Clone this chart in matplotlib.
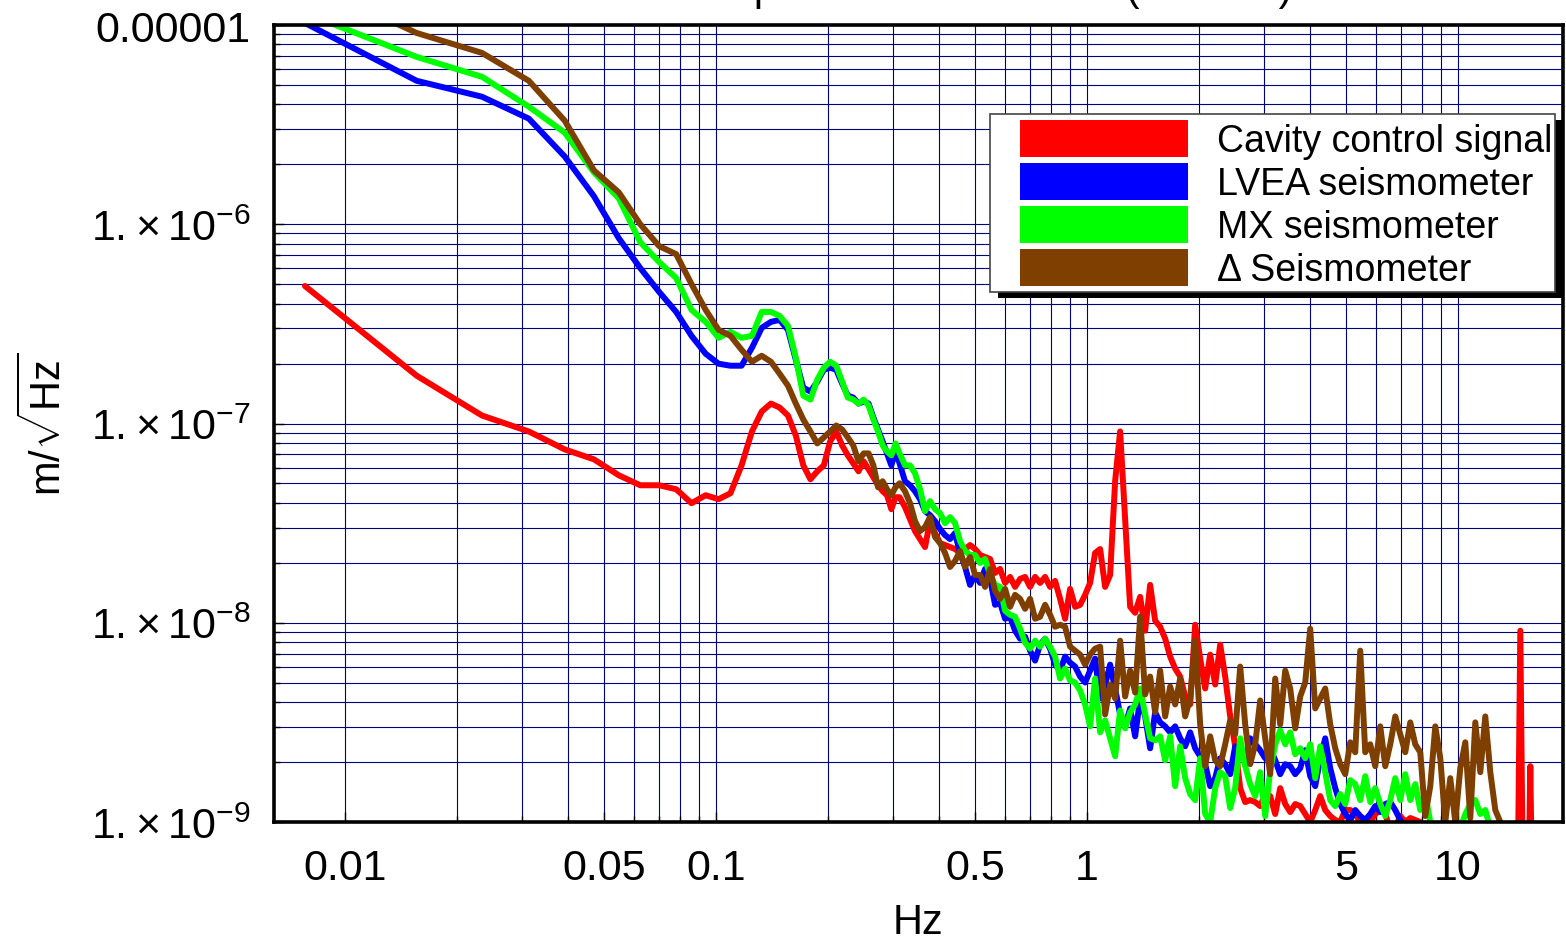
import numpy as np
import matplotlib
matplotlib.use("Agg")
import matplotlib.pyplot as plt
from matplotlib.patches import Patch, Rectangle
from matplotlib.ticker import FixedLocator, FixedFormatter, NullFormatter

plt.rcParams['font.family'] = ['Liberation Sans', 'DejaVu Sans']
plt.rcParams['mathtext.fontset'] = 'custom'
plt.rcParams['mathtext.rm'] = 'Liberation Sans'
plt.rcParams['mathtext.it'] = 'Liberation Sans:italic'
plt.rcParams['mathtext.bf'] = 'Liberation Sans:bold'

# frequency bins in Hz: 1/128 Hz spacing at the low end ...
freq_low = [0.0078, 0.0156, 0.0234, 0.0313, 0.0391, 0.0469, 0.0547, 0.0625, 0.0703, 0.0781,
            0.0859, 0.0938, 0.1016, 0.1094, 0.1172, 0.1250, 0.1328, 0.1406, 0.1484, 0.1563,
            0.1641, 0.1719, 0.1797, 0.1875, 0.1953, 0.2031, 0.2109, 0.2188, 0.2266, 0.2344,
            0.2422, 0.2500, 0.2578, 0.2656, 0.2734, 0.2813, 0.2891, 0.2969, 0.3047, 0.3125]
# ... and read-off points above 0.32 Hz
freq_high = [0.3232, 0.3334, 0.3439, 0.3548, 0.3660, 0.3775, 0.3894, 0.4017, 0.4144, 0.4274,
             0.4409, 0.4548, 0.4692, 0.4840, 0.4992, 0.5150, 0.5312, 0.5480, 0.5653, 0.5831,
             0.6015, 0.6204, 0.6400, 0.6602, 0.6810, 0.7024, 0.7246, 0.7474, 0.7710, 0.7953,
             0.8204, 0.8463, 0.8729, 0.9005, 0.9289, 0.9582, 0.9884, 1.0195, 1.0517, 1.0849,
             1.1191, 1.1544, 1.1908, 1.2283, 1.2671, 1.3071, 1.3483, 1.3908, 1.4347, 1.4799,
             1.5266, 1.5747, 1.6244, 1.6756, 1.7285, 1.7830, 1.8392, 1.8972, 1.9570, 2.0187,
             2.0824, 2.1481, 2.2158, 2.2857, 2.3578, 2.4321, 2.5088, 2.5879, 2.6695, 2.7537,
             2.8405, 2.9301, 3.0225, 3.1178, 3.2161, 3.3175, 3.4221, 3.5300, 3.6413, 3.7562,
             3.8746, 3.9968, 4.1228, 4.2528, 4.3869, 4.5253, 4.6680, 4.8152, 4.9670, 5.1236,
             5.2852, 5.4519, 5.6238, 5.8011, 5.9840, 6.1727, 6.3674, 6.5682, 6.7753, 6.9889,
             7.2093, 7.4366, 7.6711, 7.9130, 8.1626, 8.4200, 8.6855, 8.9594, 9.2419, 9.5333,
             9.8339, 10.144, 10.464, 10.794, 11.134, 11.485, 11.847, 12.221, 12.606, 13.004,
             13.414, 13.837, 14.273, 14.723, 15.187, 15.666, 16.160, 16.670]

# log10 of the amplitude spectra, m/sqrt(Hz)
cavity = [-6.31, -6.76, -6.96, -7.04, -7.13, -7.18, -7.26, -7.31, -7.31, -7.33,
          -7.40, -7.36, -7.38, -7.35, -7.21, -7.04, -6.94, -6.90, -6.92, -6.96,
          -7.06, -7.21, -7.28, -7.24, -7.21, -7.09, -7.04, -7.11, -7.16, -7.20,
          -7.24, -7.19, -7.23, -7.27, -7.31, -7.34, -7.36, -7.43, -7.37, -7.37,
          -7.42, -7.48, -7.54, -7.58, -7.62, -7.49, -7.55, -7.60, -7.61, -7.62,
          -7.63, -7.65, -7.63, -7.61, -7.63, -7.66, -7.67, -7.68, -7.75, -7.73,
          -7.80, -7.77, -7.82, -7.78, -7.77, -7.82, -7.77, -7.80, -7.77, -7.82,
          -7.79, -7.88, -7.98, -7.83, -7.92, -7.91, -7.86, -7.80, -7.65, -7.63,
          -7.82, -7.76, -7.29, -7.04, -7.48, -7.92, -7.95, -7.87, -8.04, -7.81,
          -7.99, -8.02, -8.08, -8.17, -8.23, -8.27, -8.37, -8.41, -8.01, -8.18,
          -8.33, -8.16, -8.31, -8.11, -8.27, -8.47, -8.62, -8.83, -8.90, -8.89,
          -8.90, -8.92, -8.86, -8.87, -8.96, -8.83, -8.91, -8.95, -8.91, -8.92,
          -8.96, -9.00, -8.94, -8.87, -8.94, -8.97, -8.99, -9.00, -8.94, -8.94,
          -8.96, -9.00, -9.01, -9.00, -8.96, -8.94, -8.96, -9.04, -9.03, -8.97,
          -9.00, -8.98, -8.99, -9.00, -9.10, -9.15, -9.20, -9.25, -9.20, -9.25,
          -9.30, -9.25, -9.30, -9.30, -9.35, -9.30, -9.35, -9.40, -9.35, -9.40,
          -9.40, -9.45, -10.5, -8.04, -10.5, -8.72, -10.5, -9.50]

lvea = [-4.99, -5.28, -5.36, -5.47, -5.66, -5.86, -6.07, -6.22, -6.34, -6.44,
        -6.56, -6.65, -6.70, -6.71, -6.71, -6.62, -6.52, -6.49, -6.48, -6.53,
        -6.68, -6.82, -6.84, -6.79, -6.73, -6.72, -6.73, -6.80, -6.86, -6.87,
        -6.90, -6.89, -6.90, -6.97, -7.03, -7.09, -7.15, -7.21, -7.14, -7.20,
        -7.29, -7.31, -7.34, -7.38, -7.44, -7.46, -7.49, -7.53, -7.56, -7.58,
        -7.55, -7.65, -7.72, -7.81, -7.76, -7.80, -7.73, -7.78, -7.91, -7.90,
        -7.98, -7.97, -8.04, -8.08, -8.07, -8.14, -8.19, -8.11, -8.08, -8.13,
        -8.21, -8.24, -8.17, -8.20, -8.22, -8.27, -8.30, -8.24, -8.18, -8.38,
        -8.31, -8.21, -8.33, -8.46, -8.52, -8.43, -8.57, -8.38, -8.47, -8.63,
        -8.45, -8.50, -8.52, -8.55, -8.52, -8.58, -8.62, -8.55, -8.63, -8.67,
        -8.71, -8.82, -8.78, -8.68, -8.71, -8.76, -8.62, -8.64, -8.69, -8.58,
        -8.61, -8.64, -8.68, -8.63, -8.69, -8.76, -8.71, -8.72, -8.76, -8.73,
        -8.64, -8.77, -8.82, -8.68, -8.58, -8.73, -8.83, -8.91, -8.96, -8.99,
        -8.94, -8.97, -8.99, -8.96, -8.92, -8.95, -8.91, -8.90, -8.94, -8.99,
        -9.04, -9.09, -9.15, -9.20]

mx = [-4.94, -5.16, -5.26, -5.41, -5.54, -5.74, -5.87, -6.09, -6.19, -6.27,
      -6.43, -6.49, -6.57, -6.54, -6.57, -6.56, -6.44, -6.44, -6.46, -6.51,
      -6.67, -6.86, -6.88, -6.78, -6.72, -6.69, -6.71, -6.79, -6.87, -6.88,
      -6.90, -6.88, -6.91, -6.98, -7.04, -7.11, -7.14, -7.16, -7.10, -7.15,
      -7.21, -7.21, -7.25, -7.33, -7.44, -7.39, -7.43, -7.45, -7.50, -7.47,
      -7.50, -7.59, -7.64, -7.66, -7.66, -7.70, -7.68, -7.76, -7.81, -7.82,
      -7.94, -7.96, -7.97, -8.03, -8.10, -8.13, -8.09, -8.12, -8.08, -8.12,
      -8.17, -8.28, -8.23, -8.29, -8.30, -8.34, -8.41, -8.52, -8.28, -8.55,
      -8.49, -8.58, -8.67, -8.44, -8.53, -8.45, -8.41, -8.33, -8.46, -8.58,
      -8.59, -8.57, -8.69, -8.57, -8.82, -8.62, -8.78, -8.86, -8.89, -8.68,
      -8.96, -9.00, -8.83, -8.75, -8.77, -8.93, -8.83, -8.58, -8.72, -8.81,
      -8.87, -8.75, -8.97, -8.74, -8.61, -8.54, -8.61, -8.55, -8.66, -8.63,
      -8.68, -8.61, -8.78, -8.62, -8.75, -8.89, -8.92, -8.86, -8.91, -8.79,
      -8.81, -8.89, -8.77, -8.90, -8.83, -8.91, -8.97, -8.89, -8.78, -8.89,
      -8.76, -8.89, -8.81, -8.94, -8.86, -9.00, -9.03, -9.06, -9.03, -9.05,
      -9.01, -9.03, -8.96, -8.91, -8.89, -8.96, -8.94, -9.03, -9.11, -9.19]

delta = [-4.78, -5.04, -5.14, -5.28, -5.48, -5.73, -5.84, -6.00, -6.11, -6.15,
         -6.30, -6.43, -6.53, -6.56, -6.63, -6.69, -6.66, -6.69, -6.75, -6.81,
         -6.90, -6.98, -7.04, -7.10, -7.07, -7.04, -7.01, -7.03, -7.07, -7.11,
         -7.19, -7.15, -7.15, -7.21, -7.32, -7.29, -7.33, -7.36, -7.32, -7.30,
         -7.34, -7.40, -7.49, -7.54, -7.52, -7.47, -7.57, -7.60, -7.65, -7.72,
         -7.69, -7.64, -7.72, -7.67, -7.76, -7.76, -7.82, -7.73, -7.84, -7.88,
         -7.83, -7.92, -7.86, -7.88, -7.93, -7.88, -7.98, -7.97, -7.91, -7.96,
         -8.02, -8.01, -8.02, -8.12, -8.14, -8.16, -8.21, -8.16, -8.13, -8.12,
         -8.46, -8.31, -8.38, -8.09, -8.37, -8.24, -8.35, -7.97, -8.36, -8.27,
         -8.45, -8.24, -8.47, -8.32, -8.41, -8.28, -8.47, -8.38, -8.09, -8.51,
         -8.72, -8.57, -8.69, -8.72, -8.61, -8.49, -8.56, -8.22, -8.51, -8.71,
         -8.61, -8.39, -8.58, -8.76, -8.28, -8.51, -8.24, -8.33, -8.53, -8.37,
         -8.30, -8.03, -8.43, -8.38, -8.33, -8.51, -8.63, -8.71, -8.76, -8.60,
         -8.65, -8.14, -8.65, -8.61, -8.72, -8.52, -8.72, -8.61, -8.47, -8.56,
         -8.65, -8.50, -8.61, -8.65, -8.97, -8.82, -8.52, -8.68, -9.00, -8.78,
         -9.00, -8.73, -8.60, -8.98, -8.50, -8.75, -8.47, -8.75, -8.94, -9.00,
         -9.14]

names = ["Cavity control signal", "LVEA seismometer", "MX seismometer", "\u0394 Seismometer"]
colors = ["#ff0000", "#0000ff", "#00ff00", "#7f3f00"]

xticks = [0.01, 0.05, 0.1, 0.5, 1, 5, 10]
xticklabels = ["0.01", "0.05", "0.1", "0.5", "1", "5", "10"]
yticks = [1e-9, 1e-8, 1e-7, 1e-6, 1e-5]
yticklabels = [r"$1.\!\times10^{-9}$", r"$1.\!\times10^{-8}$", r"$1.\!\times10^{-7}$",
               r"$1.\!\times10^{-6}$", "0.00001"]

fig = plt.figure(figsize=(15.66, 9.45), dpi=100)
ax = fig.add_axes([274 / 1566, 1 - 823 / 945, 1289 / 1566, 797 / 945])

freq = np.array(freq_low + freq_high)
for vals, c in zip([cavity, lvea, mx, delta], colors):
    amp = 10.0 ** np.array(vals)
    ax.plot(freq[:len(amp)], amp, color=c, lw=4.3,
            solid_joinstyle='round', solid_capstyle='round')

ax.set_xscale('log')
ax.set_yscale('log')
ax.set_xlim(0.006436, 19.19)
ax.set_ylim(1e-9, 1e-5)

# grid at every 1..9 x decade
xminor = [m * 10.0 ** e for e in (-2, -1, 0) for m in range(2, 10)]
yminor = [m * 10.0 ** e for e in (-9, -8, -7, -6) for m in range(2, 10)]
ax.xaxis.set_major_locator(FixedLocator(xticks))
ax.xaxis.set_major_formatter(FixedFormatter(xticklabels))
ax.xaxis.set_minor_locator(FixedLocator(xminor))
ax.xaxis.set_minor_formatter(NullFormatter())
ax.yaxis.set_major_locator(FixedLocator(yticks))
ax.yaxis.set_major_formatter(FixedFormatter(yticklabels))
ax.yaxis.set_minor_locator(FixedLocator(yminor))
ax.yaxis.set_minor_formatter(NullFormatter())
ax.grid(True, which='both', color='#000080', lw=0.8)
ax.set_axisbelow(True)

ax.tick_params(which='both', direction='in', color='black', width=1, labelsize=31)
ax.tick_params(which='major', length=7)
ax.tick_params(which='minor', length=4)
ax.tick_params(axis='y', pad=17)
ax.tick_params(axis='x', pad=19)
for s in ax.spines.values():
    s.set_linewidth(2.6)

ax.set_xlabel("Hz", fontsize=30)
ax.xaxis.set_label_coords(0.5, -0.101)
ax.set_ylabel(r"m/$\sqrt{\mathrm{Hz}}$", fontsize=30)
ax.yaxis.set_label_coords(-0.158, 0.5)

# title sits above the picture, only its descenders show
fig.text(1292 / 1566, 1.0, "Displacement estimate (12/3/10)", ha='right', va='baseline',
         fontsize=30)

handles = [Patch(facecolor=c, edgecolor='none') for c in colors]
leg = ax.legend(handles, names, loc='upper left', bbox_to_anchor=(0.5787, 0.8808),
                borderaxespad=0, borderpad=0, frameon=False, fontsize=27,
                handlelength=4.48, handleheight=1.14, handletextpad=0.77,
                labelspacing=0.1)

# white box with a hard black drop shadow behind the legend
fig.canvas.draw()
bb = leg.get_window_extent()
inv = fig.transFigure.inverted()
(fx0, fy0) = inv.transform((bb.x0 - 30, bb.y0 - 4))
(fx1, fy1) = inv.transform((bb.x1 + 3, bb.y1 + 6))
shadow = Rectangle((fx0 + 8 / 1566, fy0 - 6 / 945), fx1 - fx0, fy1 - fy0,
                   transform=fig.transFigure, facecolor='black', edgecolor='none',
                   zorder=4.8, clip_on=False)
box = Rectangle((fx0, fy0), fx1 - fx0, fy1 - fy0, transform=fig.transFigure,
                facecolor='white', edgecolor='#444444', lw=1.2, zorder=4.9, clip_on=False)
ax.add_artist(shadow)
ax.add_artist(box)

fig.savefig("out.png", dpi=100)
